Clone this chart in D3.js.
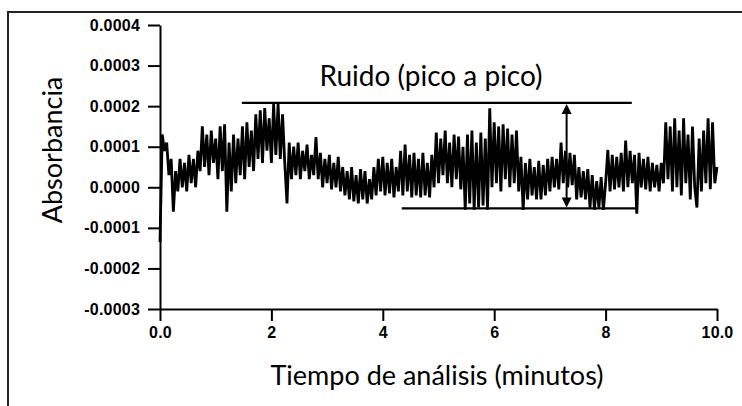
<!DOCTYPE html>
<html>
<head>
<meta charset="utf-8">
<script src="https://cdn.jsdelivr.net/npm/d3@7"></script>
<style>
  html, body { margin: 0; padding: 0; background: #fff; }
  svg { display: block; }
  .tick text { font-family: "Liberation Sans", Arial, sans-serif; font-weight: bold; font-size: 16px; letter-spacing: 0.2px; fill: #000; }
  .title { font-family: Lato, "Open Sans", sans-serif; font-size: 27px; fill: #000; }
</style>
</head>
<body>
<svg id="chart" width="742" height="406"></svg>
<script>
// Time axis (minutes)
const xTicks = [0, 2, 4, 6, 8, 10];
const xTickLabels = ["0.0", "2", "4", "6", "8", "10.0"];

// Absorbance axis
const yTicks = [-0.0003, -0.0002, -0.0001, 0, 0.0001, 0.0002, 0.0003, 0.0004];
const yTickLabels = ["-0.0003", "-0.0002", "-0.0001", "0.0000", "0.0001", "0.0002", "0.0003", "0.0004"];

// Baseline signal, sampled every 0.04 min from t = 0, absorbance x 10^4
const sampleStep = 0.04;
const absorbanceE4 = [
  -1.35, 1.3, 0.9, 1.1, 0.3, 0.7, -0.6, 0.4, -0.1, 0.7,
  0.0, 0.6, -0.1, 0.8, 0.1, 0.7, 0.0, 0.9, 0.4, 1.5,
  0.5, 1.3, 0.3, 1.4, 0.6, 1.2, 0.2, 1.5, 0.4, 1.55,
  -0.6, 1.1, -0.1, 1.3, 0.1, 1.2, 0.3, 1.5, 0.2, 1.6,
  0.5, 1.4, 0.4, 1.8, 0.7, 1.9, 0.6, 1.95, 0.9, 1.7,
  0.6, 2.05, 0.8, 2.05, 0.7, 1.8, 0.6, -0.4, 1.1, 0.2,
  1.0, 0.3, 1.1, 0.2, 0.9, 0.4, 1.05, 0.2, 0.8, 0.3,
  1.24, 0.2, 0.85, 0.0, 0.7, 0.1, 0.8, -0.05, 0.6, 0.0,
  0.75, -0.1, 0.5, -0.2, 0.4, -0.3, 0.5, -0.35, 0.3, -0.4,
  0.45, -0.3, 0.4, -0.4, 0.2, -0.3, 0.5, -0.2, 0.7, -0.1,
  0.75, -0.2, 0.6, -0.15, 0.7, -0.25, 0.5, -0.1, 0.9, -0.2,
  1.05, -0.1, 0.8, -0.25, 0.85, -0.2, 0.7, -0.25, 0.85, -0.2,
  0.6, -0.25, 0.8, 0.0, 1.35, 0.1, 1.2, 0.3, 1.4, 0.1,
  1.1, 0.0, 1.3, 0.2, 1.25, -0.05, 1.0, -0.55, 1.3, -0.4,
  1.4, -0.55, 1.1, -0.5, 1.35, -0.45, 1.2, -0.55, 1.95, 0.0,
  1.6, 0.1, 1.5, -0.1, 1.55, 0.2, 1.45, 0.0, 1.3, 0.1,
  1.4, -0.1, 0.75, -0.56, 0.6, -0.3, 0.7, -0.2, 0.5, -0.3,
  0.65, -0.3, 0.55, -0.2, 0.7, -0.1, 0.75, 0.0, 0.7, -0.05,
  1.1, 0.1, 0.9, 0.0, 0.85, 0.05, 0.8, -0.3, 0.5, -0.25,
  0.4, -0.3, 0.45, -0.5, 0.3, -0.55, 0.15, -0.5, 0.25, -0.56,
  0.1, 0.92, -0.1, 0.8, -0.05, 0.75, 0.0, 0.85, -0.1, 1.15,
  0.0, 0.9, 0.1, 0.8, -0.65, 0.85, 0.0, 0.7, -0.05, 0.75,
  -0.1, 0.6, 0.0, 0.55, -0.1, 0.6, 0.1, 1.6, 0.2, 1.5,
  -0.1, 1.7, 0.0, 1.4, -0.2, 1.7, 0.1, 1.3, -0.3, 1.5,
  0.0, -0.5, 1.2, -0.1, 1.4, 0.1, 1.7, -0.05, 1.6, 0.1,
  0.5
];

// Peak-to-peak noise markers
const noiseMax = 0.000208;
const noiseMin = -0.000052;
const noiseMaxSpan = [1.47, 8.47];
const noiseMinSpan = [4.34, 8.58];
const noiseArrowAt = 7.3;

const svg = d3.select("#chart");

const x = d3.scaleLinear().domain([0, 10]).range([160, 717]);
const y = d3.scaleLinear().domain([-0.0003, 0.0004]).range([309, 25]);

// Outer frame
svg.append("path")
  .attr("d", "M8,406V12H742")
  .attr("fill", "none")
  .attr("stroke", "#222")
  .attr("stroke-width", 2);

// Axes
const xAxis = d3.axisBottom(x)
  .tickValues(xTicks)
  .tickFormat((d, i) => xTickLabels[i])
  .tickSize(12)
  .tickSizeOuter(0)
  .tickPadding(6);

const yAxis = d3.axisLeft(y)
  .tickValues(yTicks)
  .tickFormat((d, i) => yTickLabels[i])
  .tickSize(12)
  .tickSizeOuter(0)
  .tickPadding(8);

const gx = svg.append("g").attr("transform", `translate(0,${y(-0.0003)})`).call(xAxis);
const gy = svg.append("g").attr("transform", `translate(${x(0)},0)`).call(yAxis);

[gx, gy].forEach(g => {
  g.select(".domain").attr("stroke", "#000").attr("stroke-width", 2);
  g.selectAll(".tick line").attr("stroke", "#000").attr("stroke-width", 2);
});

// Signal trace
const line = d3.line()
  .x((d, i) => x(i * sampleStep))
  .y(d => y(d * 1e-4));

svg.append("path")
  .datum(absorbanceE4)
  .attr("d", line)
  .attr("fill", "none")
  .attr("stroke", "#000")
  .attr("stroke-width", 2.8)
  .attr("stroke-linejoin", "bevel");

// Noise band limits
svg.append("line")
  .attr("x1", x(noiseMaxSpan[0])).attr("x2", x(noiseMaxSpan[1]))
  .attr("y1", y(noiseMax)).attr("y2", y(noiseMax))
  .attr("stroke", "#000").attr("stroke-width", 2.2);

svg.append("line")
  .attr("x1", x(noiseMinSpan[0])).attr("x2", x(noiseMinSpan[1]))
  .attr("y1", y(noiseMin)).attr("y2", y(noiseMin))
  .attr("stroke", "#000").attr("stroke-width", 2.2);

// Double-headed arrow between the limits
const ax = x(noiseArrowAt);
const yTop = y(noiseMax), yBot = y(noiseMin);
const head = 10, half = 5;
svg.append("line")
  .attr("x1", ax).attr("x2", ax)
  .attr("y1", yTop + head).attr("y2", yBot - head)
  .attr("stroke", "#000").attr("stroke-width", 2);
svg.append("path")
  .attr("d", `M${ax},${yTop + 1}L${ax - half},${yTop + head + 1}L${ax + half},${yTop + head + 1}Z`)
  .attr("fill", "#000");
svg.append("path")
  .attr("d", `M${ax},${yBot - 1}L${ax - half},${yBot - head - 1}L${ax + half},${yBot - head - 1}Z`)
  .attr("fill", "#000");

// Titles
svg.append("text")
  .attr("class", "title")
  .attr("x", 431).attr("y", 86)
  .attr("text-anchor", "middle")
  .style("font-size", "28px")
  .text("Ruido (pico a pico)");

svg.append("text")
  .attr("class", "title")
  .attr("x", 437).attr("y", 385)
  .attr("text-anchor", "middle")
  .text("Tiempo de análisis (minutos)");

svg.append("text")
  .attr("class", "title")
  .attr("transform", "translate(62,150) rotate(-90)")
  .attr("text-anchor", "middle")
  .text("Absorbancia");
</script>
</body>
</html>
